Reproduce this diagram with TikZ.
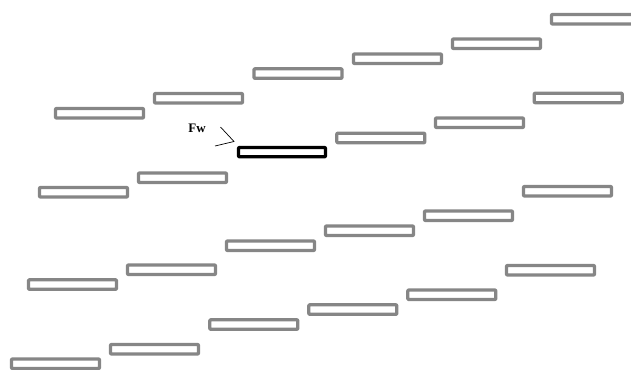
\documentclass[tikz,border=0pt]{standalone}
\usepackage{fontspec}
\setmainfont{Liberation Serif}
\begin{document}
\begin{tikzpicture}[x=1pt,y=-1pt,
  bar/.style={draw=gray!95!white,line width=3.3pt,line join=round,rounded corners=0.8pt},
  barblack/.style={draw=black,line width=3.3pt,line join=round,rounded corners=0.8pt},
  tipline/.style={draw=black,line width=0.7pt}]
\useasboundingbox (0,0) rectangle (631,369);
\clip (0,0) rectangle (631,369);
% row A
\foreach \x/\y in {55.5/108.5,154.5/93.5,254/68.8,353.5/54,452.5/39,551.5/14.5}
  \draw[bar] (\x,\y) rectangle ++(88,9.5);
% row B
\foreach \x/\y in {39.5/187.5,138.5/173,336.8/133.2,435.5/118,534.2/93.2}
  \draw[bar] (\x,\y) rectangle ++(88,9.5);
\draw[barblack] (238.5,147.5) rectangle ++(87,9.3);
% row C
\foreach \x/\y in {28.5/279.8,127.5/265,226.5/241,325.5/226,424.5/211,523.5/186.5}
  \draw[bar] (\x,\y) rectangle ++(88,9.5);
% row D
\foreach \x/\y in {11.5/359,110.5/344.5,209.8/319.8,308.8/304.8,407.8/290,506.5/265.5}
  \draw[bar] (\x,\y) rectangle ++(88,9.5);
% label and arrow tip
\node[font=\bfseries\fontsize{13}{14}\selectfont,inner sep=0pt] (fw) at (197,128) {Fw};
\coordinate (tip) at (234,141.5);
\coordinate (t1) at (220.5,127);
\coordinate (t2) at (215,146);
\draw[tipline] (t1) -- (tip) -- (t2);
\end{tikzpicture}
\end{document}
